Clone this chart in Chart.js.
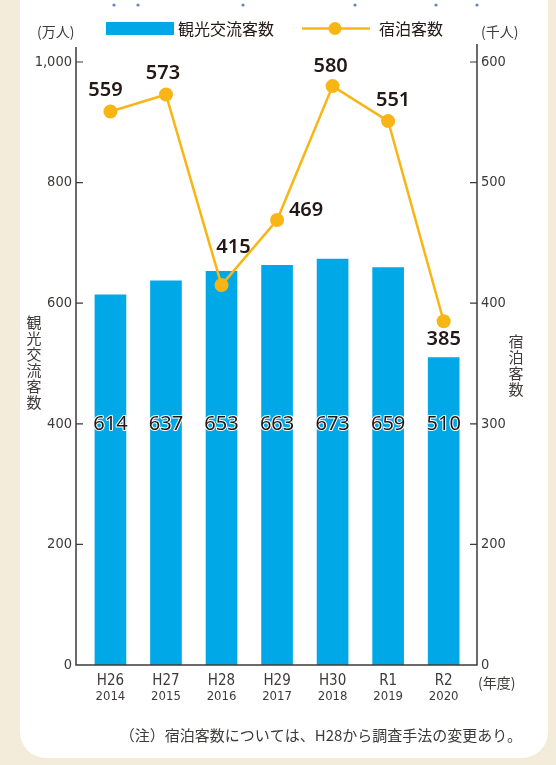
<!DOCTYPE html>
<html>

<head>
    <meta charset="utf-8">
    <title>kanko_kyakusu_chart</title>
    <script src="https://cdn.jsdelivr.net/npm/chart.js"></script>
    <style>
        html, body {
            margin: 0;
            padding: 0;
            width: 556px;
            height: 765px;
            overflow: hidden;
            background: #f3ecda;
        }
        #panel {
            position: absolute;
            left: 20px;
            top: -40px;
            width: 528px;
            height: 798px;
            background: #ffffff;
            border-radius: 0 0 26px 26px;
        }
        #wrap {
            position: absolute;
            left: 0;
            top: 0;
            width: 556px;
            height: 765px;
        }
    </style>
</head>

<body>
    <div id="panel"></div>
    <div id="wrap"><canvas id="chartCanvas"></canvas></div>
    <script>
        // 年度
        const categories = ['H26', 'H27', 'H28', 'H29', 'H30', 'R1', 'R2'];
        const years = ['2014', '2015', '2016', '2017', '2018', '2019', '2020'];
        // 観光交流客数（万人）
        const visitors = [614, 637, 653, 663, 673, 659, 510];
        // 宿泊客数（千人）
        const guests = [559, 573, 415, 469, 580, 551, 385];
        // 軸の目盛り
        const leftTicks = [0, 200, 400, 600, 800, 1000];
        const rightTicks = [100, 200, 300, 400, 500, 600]; // 右軸は省略あり：一番下を0と表示
        const rightTickLabels = ['0', '200', '300', '400', '500', '600'];

        const BLUE = '#00a8e8';
        const ORANGE = '#f8b616';
        const INK = '#3e3a39';
        const DARK = '#231815';
        const NARROW = "'Liberation Sans Narrow', 'DejaVu Sans Condensed', 'Roboto', sans-serif";
        const JP = "'Noto Sans CJK JP', 'Noto Sans', sans-serif";
        const NUM = "'Noto Sans', 'Open Sans', sans-serif";

        // 折れ線ラベルの位置（点からのずれ）
        const guestLabelOffset = [[-5, -21], [-3, -21], [12, -38], [29, -10], [-2, -20], [5, -21], [0, 18]];

        const decoPlugin = {
            id: 'deco',
            afterDraw(chart) {
                const ctx = chart.ctx;
                const xs = chart.scales.x;
                const yl = chart.scales.y;
                const yr = chart.scales.y1;
                const area = chart.chartArea;
                ctx.save();

                // 軸線
                ctx.strokeStyle = INK;
                ctx.lineWidth = 1.5;
                ctx.beginPath();
                ctx.moveTo(area.left, 47);
                ctx.lineTo(area.left, area.bottom);
                ctx.lineTo(area.right, area.bottom);
                ctx.lineTo(area.right, 44);
                ctx.stroke();

                // 目盛り線
                ctx.lineWidth = 1.2;
                ctx.beginPath();
                leftTicks.forEach(v => {
                    if (v === 0) return;
                    const y = yl.getPixelForValue(v);
                    ctx.moveTo(area.left, y);
                    ctx.lineTo(area.left + 7, y);
                });
                rightTicks.forEach((v, i) => {
                    if (i === 0) return;
                    const y = yr.getPixelForValue(v);
                    ctx.moveTo(area.right, y);
                    ctx.lineTo(area.right - 7, y);
                });
                ctx.stroke();

                // 横軸ラベル
                ctx.fillStyle = INK;
                ctx.textAlign = 'center';
                ctx.textBaseline = 'middle';
                categories.forEach((c, i) => {
                    const x = xs.getPixelForValue(i);
                    ctx.font = '15px ' + NARROW;
                    ctx.fillText(c, x, 681);
                    ctx.font = '13px ' + NARROW;
                    ctx.fillText(years[i], x, 697);
                });
                ctx.font = '14px ' + JP;
                ctx.textAlign = 'left';
                ctx.fillText('(年度)', area.right + 1, 683);

                // 単位
                ctx.fillText('(万人)', 37, 32);
                ctx.fillText('(千人)', 481, 32);

                // 縦書きの軸タイトル
                ctx.textAlign = 'center';
                ctx.font = '15px ' + JP;
                '観光交流客数'.split('').forEach((ch, i) => ctx.fillText(ch, 34, 322 + i * 16));
                '宿泊客数'.split('').forEach((ch, i) => ctx.fillText(ch, 516, 341 + i * 16));

                // 凡例
                ctx.fillStyle = BLUE;
                ctx.fillRect(106, 22, 68, 13);
                ctx.fillStyle = DARK;
                ctx.textAlign = 'left';
                ctx.font = '16px ' + JP;
                ctx.fillText('観光交流客数', 178, 29);
                ctx.strokeStyle = ORANGE;
                ctx.lineWidth = 2.5;
                ctx.beginPath();
                ctx.moveTo(302, 28.5);
                ctx.lineTo(370, 28.5);
                ctx.stroke();
                ctx.fillStyle = ORANGE;
                ctx.beginPath();
                ctx.arc(335, 28.5, 6.5, 0, Math.PI * 2);
                ctx.fill();
                ctx.fillStyle = DARK;
                ctx.fillText('宿泊客数', 379, 29);

                // 棒の数値（白縁取り）
                ctx.textAlign = 'center';
                ctx.font = '20px ' + NUM;
                ctx.lineJoin = 'round';
                const yMid = yl.getPixelForValue(400);
                chart.getDatasetMeta(0).data.forEach((bar, i) => {
                    ctx.strokeStyle = '#ffffff';
                    ctx.lineWidth = 2;
                    ctx.strokeText(String(visitors[i]), bar.x, yMid);
                    ctx.fillStyle = DARK;
                    ctx.fillText(String(visitors[i]), bar.x, yMid);
                });

                // 折れ線の数値
                ctx.font = '600 20px ' + NUM;
                chart.getDatasetMeta(1).data.forEach((pt, i) => {
                    const off = guestLabelOffset[i];
                    ctx.fillText(String(guests[i]), pt.x + off[0], pt.y + off[1]);
                });

                // 注記
                ctx.fillStyle = INK;
                ctx.textAlign = 'right';
                ctx.font = '15px ' + JP;
                ctx.fillText('（注）宿泊客数については、H28から調査手法の変更あり。', 522, 735);

                // 上端の点
                ctx.fillStyle = '#5f86c6';
                [114, 138, 243, 355, 436, 477].forEach(x => {
                    ctx.beginPath();
                    ctx.arc(x, 5, 1.6, 0, Math.PI * 2);
                    ctx.fill();
                });

                ctx.restore();
            }
        };

        new Chart(document.getElementById('chartCanvas'), {
            type: 'bar',
            data: {
                datasets: [{
                    label: '観光交流客数',
                    data: visitors.map((v, i) => ({ x: i, y: v })),
                    backgroundColor: BLUE,
                    barThickness: 31,
                    yAxisID: 'y',
                    order: 1
                }, {
                    type: 'line',
                    label: '宿泊客数',
                    data: guests.map((v, i) => ({ x: i, y: v })),
                    borderColor: ORANGE,
                    backgroundColor: ORANGE,
                    borderWidth: 2.5,
                    pointRadius: 7,
                    pointBorderWidth: 0,
                    tension: 0,
                    yAxisID: 'y1',
                    order: 0
                }]
            },
            options: {
                responsive: true,
                maintainAspectRatio: false,
                animation: false,
                layout: { padding: { top: 62, left: 0, right: 0, bottom: 0 } },
                plugins: {
                    legend: { display: false },
                    tooltip: { enabled: false }
                },
                scales: {
                    x: {
                        type: 'linear',
                        offset: false,
                        min: -0.62,
                        max: 6.6,
                        grid: { display: false, drawTicks: false },
                        border: { display: false },
                        ticks: { display: false },
                        afterFit: s => { s.height = 100; }
                    },
                    y: {
                        position: 'left',
                        min: 0,
                        max: 1000,
                        grid: { display: false, drawTicks: false },
                        border: { display: false },
                        afterBuildTicks: s => { s.ticks = leftTicks.map(v => ({ value: v })); },
                        ticks: {
                            padding: 4,
                            color: INK,
                            font: { family: NARROW, size: 14.5 },
                            callback: v => v.toLocaleString('en-US')
                        },
                        afterFit: s => { s.width = 76; }
                    },
                    y1: {
                        position: 'right',
                        min: 100,
                        max: 600,
                        grid: { display: false, drawTicks: false },
                        border: { display: false },
                        afterBuildTicks: s => { s.ticks = rightTicks.map(v => ({ value: v })); },
                        ticks: {
                            padding: 4,
                            color: INK,
                            font: { family: NARROW, size: 14.5 },
                            callback: v => rightTickLabels[rightTicks.indexOf(v)]
                        },
                        afterFit: s => { s.width = 79; }
                    }
                }
            },
            plugins: [decoPlugin]
        });
    </script>
</body>

</html>
